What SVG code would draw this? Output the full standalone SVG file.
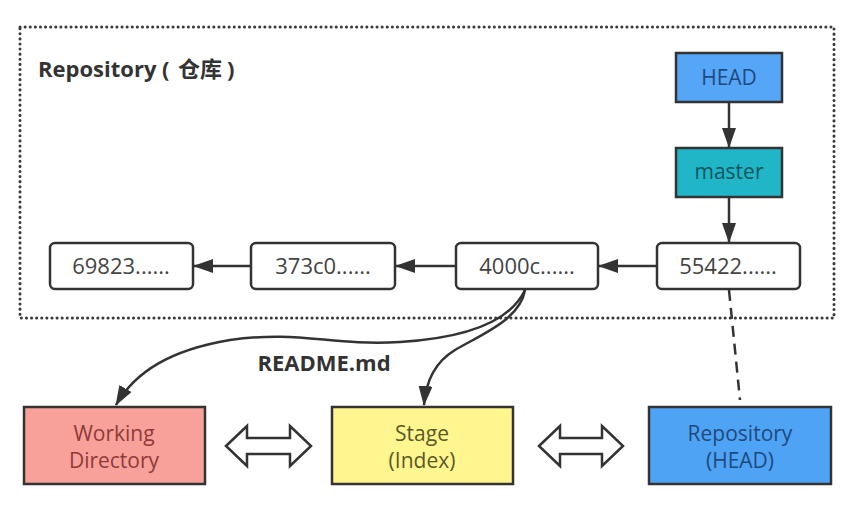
<svg xmlns="http://www.w3.org/2000/svg" width="863" height="523" viewBox="0 0 863 523">
<defs>
<style>
.t{font-family:"Open Sans","Noto Sans","Noto Sans CJK SC",sans-serif;text-anchor:middle}
.commit rect{fill:#ffffff;stroke:#333333;stroke-width:2.5}
.commit text{font-size:22px;fill:#444444}
.edge{fill:none;stroke:#333333;stroke-width:2.5}
.dbl{fill:#ffffff;stroke:#333333;stroke-width:2.5;stroke-linejoin:miter}
.big{font-size:21px}
</style>
<marker id="ah2" viewBox="0 0 20 14" refX="19" refY="7" markerWidth="20" markerHeight="14" markerUnits="userSpaceOnUse" orient="auto">
<path d="M0,0 L20,7 L0,14 Z" fill="#333333"/>
</marker>
</defs>
<rect width="863" height="523" fill="#ffffff"/>
<g id="repo-frame">
<rect x="20" y="27" width="814" height="291" fill="none" stroke="#3a3a3a" stroke-width="3" stroke-dasharray="0.1 5" stroke-linecap="round"/>
<text x="38" y="77" class="t" style="text-anchor:start;font-size:22px;font-weight:bold;fill:#333333">Repository<tspan x="162">(</tspan><tspan x="178">仓库</tspan><tspan x="227">)</tspan></text>
</g>
<g id="connectors">
<line x1="729" y1="102" x2="729" y2="147" class="edge" marker-end="url(#ah2)"/>
<line x1="729" y1="197" x2="729" y2="242" class="edge" marker-end="url(#ah2)"/>
<line x1="657" y1="266" x2="599" y2="266" class="edge" marker-end="url(#ah2)"/>
<line x1="456" y1="266" x2="396" y2="266" class="edge" marker-end="url(#ah2)"/>
<line x1="251" y1="266" x2="194" y2="266" class="edge" marker-end="url(#ah2)"/>
<path d="M525,290 C510,322 465,338 400,342 C330,346 300,330 230,340 C170,350 135,372 116,405" class="edge" marker-end="url(#ah2)"/>
<path d="M525,290 C520,320 480,335 455,350 C435,362 426,380 424,405" class="edge" marker-end="url(#ah2)"/>
<path d="M729,290 L740,400" class="edge" stroke-dasharray="11 7"/>
<path id="dbl1" class="dbl" d="M226,446 L247,426 L247,438 L290,438 L290,426 L311,446 L290,466 L290,454 L247,454 L247,466 Z"/>
<path id="dbl2" class="dbl" d="M539,446 L560,426 L560,438 L602,438 L602,426 L623,446 L602,466 L602,454 L560,454 L560,466 Z"/>
<text x="324" y="371" class="t" style="font-size:22px;font-weight:bold;fill:#333333">README.md</text>
</g>
<g id="head">
<rect x="676" y="53" width="106" height="49" fill="#55A6F7" stroke="#333333" stroke-width="2.5"/>
<text x="729" y="85" class="t big" fill="#1D4A7E">HEAD</text>
</g>
<g id="master">
<rect x="676" y="148" width="106" height="49" fill="#20B6C8" stroke="#333333" stroke-width="2.5"/>
<text x="729" y="179" class="t big" fill="#0E5560">master</text>
</g>
<g id="c69823" class="commit">
<rect x="50" y="243" width="143" height="46" rx="5"/>
<text x="121" y="274" class="t">69823......</text>
</g>
<g id="c373c0" class="commit">
<rect x="251" y="243" width="144" height="46" rx="5"/>
<text x="323" y="274" class="t">373c0......</text>
</g>
<g id="c4000c" class="commit">
<rect x="456" y="243" width="142" height="46" rx="5"/>
<text x="527" y="274" class="t">4000c......</text>
</g>
<g id="c55422" class="commit">
<rect x="657" y="243" width="143" height="46" rx="5"/>
<text x="728" y="274" class="t">55422......</text>
</g>
<g id="working">
<rect x="24" y="407" width="181" height="77" fill="#F8A09A" stroke="#333333" stroke-width="2.5"/>
<text x="114" y="441" class="t big" fill="#8E3B38">Working</text>
<text x="114" y="468" class="t big" fill="#8E3B38">Directory</text>
</g>
<g id="stage">
<rect x="332" y="407" width="181" height="77" fill="#FFF68F" stroke="#333333" stroke-width="2.5"/>
<text x="422" y="441" class="t big" fill="#5C5828">Stage</text>
<text x="422" y="468" class="t big" fill="#5C5828">(Index)</text>
</g>
<g id="repohead">
<rect x="649" y="407" width="182" height="77" fill="#4FA3F4" stroke="#333333" stroke-width="2.5"/>
<text x="740" y="441" class="t big" fill="#1D4A7E">Repository</text>
<text x="740" y="468" class="t big" fill="#1D4A7E">(HEAD)</text>
</g>
</svg>
